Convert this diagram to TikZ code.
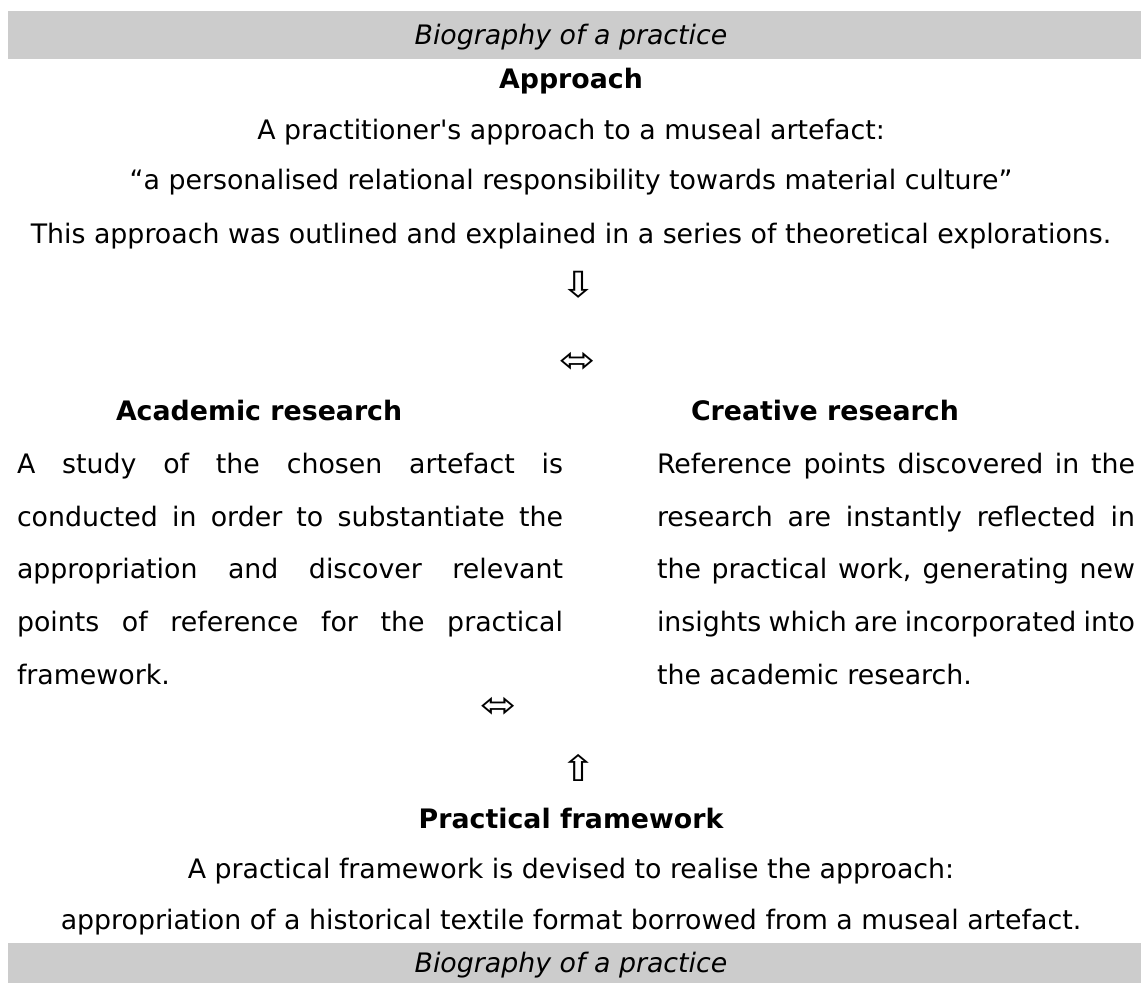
\documentclass[tikz,border=0pt]{standalone}
\usepackage{fontspec}
\setmainfont{DejaVu Sans}
\newfontfamily\arrfont{DejaVu Sans}[FakeStretch=1.2]
\definecolor{bargray}{HTML}{CCCCCC}
\tikzset{
  txt/.style={inner sep=0pt, outer sep=0pt, font=\fontsize{26.8}{30}\selectfont},
  head/.style={txt, font=\fontsize{26.8}{30}\selectfont\bfseries},
  bartxt/.style={txt, font=\fontsize{26.8}{30}\selectfont\itshape},
  bar/.style={fill=bargray, draw=none},
  arr/.style={inner sep=0pt, outer sep=0pt, font=\fontsize{36}{36}\selectfont\arrfont},
}
\begin{document}
\begin{tikzpicture}[x=1pt,y=-1pt]
\useasboundingbox (0,0) rectangle (1142,983);
% bars
\fill[bar] (8,11) rectangle (1141,59);
\fill[bar] (8,943) rectangle (1141,983);
\node[bartxt, anchor=base] (toplab) at (571,44) {Biography of a practice};
\node[bartxt, anchor=base] (botlab) at (571,972) {Biography of a practice};
% approach
\node[head, anchor=base] (apph) at (571,88) {Approach};
\node[txt, anchor=base] (app1) at (571,139) {A practitioner\textquotesingle s approach to a museal artefact:};
\node[txt, anchor=base] (app2) at (571,189) {“a personalised relational responsibility towards material culture”};
\node[txt, anchor=base] (app3) at (571,243) {This approach was outlined and explained in a series of theoretical explorations.};
\node[arr] (down) at (579,285) {⇩};
\node[arr] (lr1) at (578,362) {⬄};
% academic
\node[head, anchor=base west] (acah) at (116,420) {Academic research};
\node[txt, anchor=base west] (aca1) at (17,473) {\makebox[546pt][s]{A study of the chosen artefact is}};
\node[txt, anchor=base west] (aca2) at (17,526) {\makebox[546pt][s]{conducted in order to substantiate the}};
\node[txt, anchor=base west] (aca3) at (17,578) {\makebox[546pt][s]{appropriation and discover relevant}};
\node[txt, anchor=base west] (aca4) at (17,631) {\makebox[546pt][s]{points of reference for the practical}};
\node[txt, anchor=base west] (aca5) at (17,684) {framework.};
% creative
\node[head, anchor=base west] (creh) at (691,420) {Creative research};
\node[txt, anchor=base west] (cre1) at (657,473) {\makebox[478pt][s]{Reference points discovered in the}};
\node[txt, anchor=base west] (cre2) at (657,526) {\makebox[478pt][s]{research are instantly reflected in}};
\node[txt, anchor=base west] (cre3) at (657,578) {\makebox[478pt][s]{the practical work, generating new}};
\node[txt, anchor=base west] (cre4) at (657,631) {\makebox[478pt][s]{insights which are incorporated into}};
\node[txt, anchor=base west] (cre5) at (657,684) {the academic research.};
% lower
\node[arr] (lr2) at (499,707) {⬄};
\node[arr] (up) at (579,768) {⇧};
\node[head, anchor=base] (prah) at (571,828) {Practical framework};
\node[txt, anchor=base] (pra1) at (571,878) {A practical framework is devised to realise the approach:};
\node[txt, anchor=base] (pra2) at (571,929) {appropriation of a historical textile format borrowed from a museal artefact.};
\end{tikzpicture}
\end{document}
